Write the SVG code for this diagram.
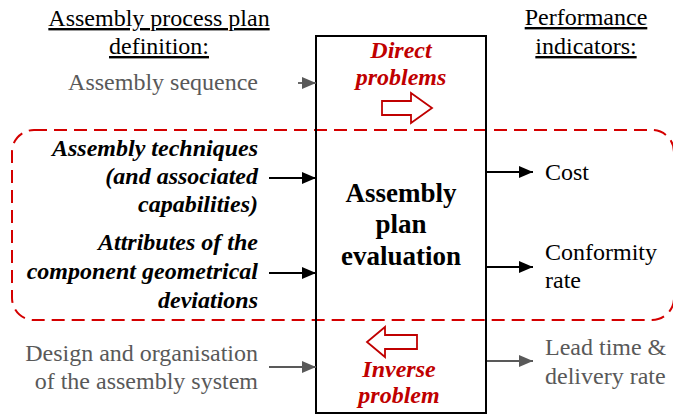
<svg xmlns="http://www.w3.org/2000/svg" width="673" height="416" viewBox="0 0 673 416">
<defs>
<style>
.t text{font-size:24px}
.g{fill:#595959}
.k{fill:#000}
.bi{font-weight:bold;font-style:italic}
.red{fill:#c00000;font-weight:bold;font-style:italic}
.u{text-decoration:underline}
.t text.cb{font-weight:bold;font-size:27px}
.ak{stroke:#000;stroke-width:2.2;fill:none}
.ag{stroke:#595959;stroke-width:1.8;fill:none}
</style>
<marker id="hk" viewBox="0 0 14 12" refX="14" refY="6" markerWidth="14" markerHeight="12" markerUnits="userSpaceOnUse" orient="auto"><path d="M0,0L14,6L0,12z" fill="#000"/></marker>
<marker id="hg" viewBox="0 0 14 12" refX="14" refY="6" markerWidth="14" markerHeight="12" markerUnits="userSpaceOnUse" orient="auto"><path d="M0,0L14,6L0,12z" fill="#595959"/></marker>
</defs>
<rect x="0" y="0" width="673" height="416" fill="#fff"/>
<rect id="scope" x="12" y="130" width="662" height="190" rx="22" fill="none" stroke="#d40000" stroke-width="2" stroke-dasharray="13,7"/>
<g class="t" font-family="Liberation Serif, Tinos, DejaVu Serif, Times New Roman, serif">
<g id="eval">
<rect x="316" y="36" width="170" height="377" fill="none" stroke="#000" stroke-width="2"/>
<text class="k cb" text-anchor="middle" x="401" y="202">Assembly</text>
<text class="k cb" text-anchor="middle" x="401" y="233">plan</text>
<text class="k cb" text-anchor="middle" x="401" y="265">evaluation</text>
</g>
<g id="direct">
<text class="red" text-anchor="middle" x="401" y="58">Direct</text>
<text class="red" text-anchor="middle" x="401" y="85">problems</text>
<path d="M382,101H411V93L432,108L411,123V115H382Z" fill="#fff" stroke="#c00000" stroke-width="1.8"/>
</g>
<g id="inverse">
<path d="M417,335H385V327L367,342L385,357V349H417Z" fill="#fff" stroke="#c00000" stroke-width="1.8"/>
<text class="red" text-anchor="middle" x="399" y="377">Inverse</text>
<text class="red" text-anchor="middle" x="399" y="403">problem</text>
</g>
<g id="heading-left">
<text class="k u" text-anchor="middle" x="159" y="26">Assembly process plan</text>
<text class="k u" text-anchor="middle" x="159" y="54">definition:</text>
</g>
<g id="heading-right">
<text class="k u" text-anchor="middle" x="586" y="25">Performance</text>
<text class="k u" text-anchor="middle" x="586" y="54">indicators:</text>
</g>
<g id="seq"><text class="g" text-anchor="end" x="258" y="90">Assembly sequence</text></g>
<g id="tech">
<text class="k bi" text-anchor="end" x="258" y="156">Assembly techniques</text>
<text class="k bi" text-anchor="end" x="258" y="184">(and associated</text>
<text class="k bi" text-anchor="end" x="258" y="212">capabilities)</text>
</g>
<g id="attr">
<text class="k bi" text-anchor="end" x="258" y="250">Attributes of the</text>
<text class="k bi" text-anchor="end" x="258" y="279">component geometrical</text>
<text class="k bi" text-anchor="end" x="258" y="308">deviations</text>
</g>
<g id="design">
<text class="g" text-anchor="end" x="258" y="361">Design and organisation</text>
<text class="g" text-anchor="end" x="258" y="389">of the assembly system</text>
</g>
<g id="cost"><text class="k" x="545" y="180">Cost</text></g>
<g id="conf">
<text class="k" x="545" y="260">Conformity</text>
<text class="k" x="545" y="288">rate</text>
</g>
<g id="lead">
<text class="g" x="545" y="355">Lead time &amp;</text>
<text class="g" x="545" y="384">delivery rate</text>
</g>
</g>
<g id="connectors">
<line class="ag" x1="298" y1="83" x2="316" y2="83" marker-end="url(#hg)"/>
<line class="ak" x1="269" y1="178" x2="316" y2="178" marker-end="url(#hk)"/>
<line class="ak" x1="269" y1="273" x2="316" y2="273" marker-end="url(#hk)"/>
<line class="ag" x1="269" y1="367" x2="316" y2="367" marker-end="url(#hg)"/>
<line class="ak" x1="487" y1="172" x2="533" y2="172" marker-end="url(#hk)"/>
<line class="ak" x1="487" y1="267" x2="533" y2="267" marker-end="url(#hk)"/>
<line class="ag" x1="487" y1="361" x2="533" y2="361" marker-end="url(#hg)"/>
</g>
</svg>
